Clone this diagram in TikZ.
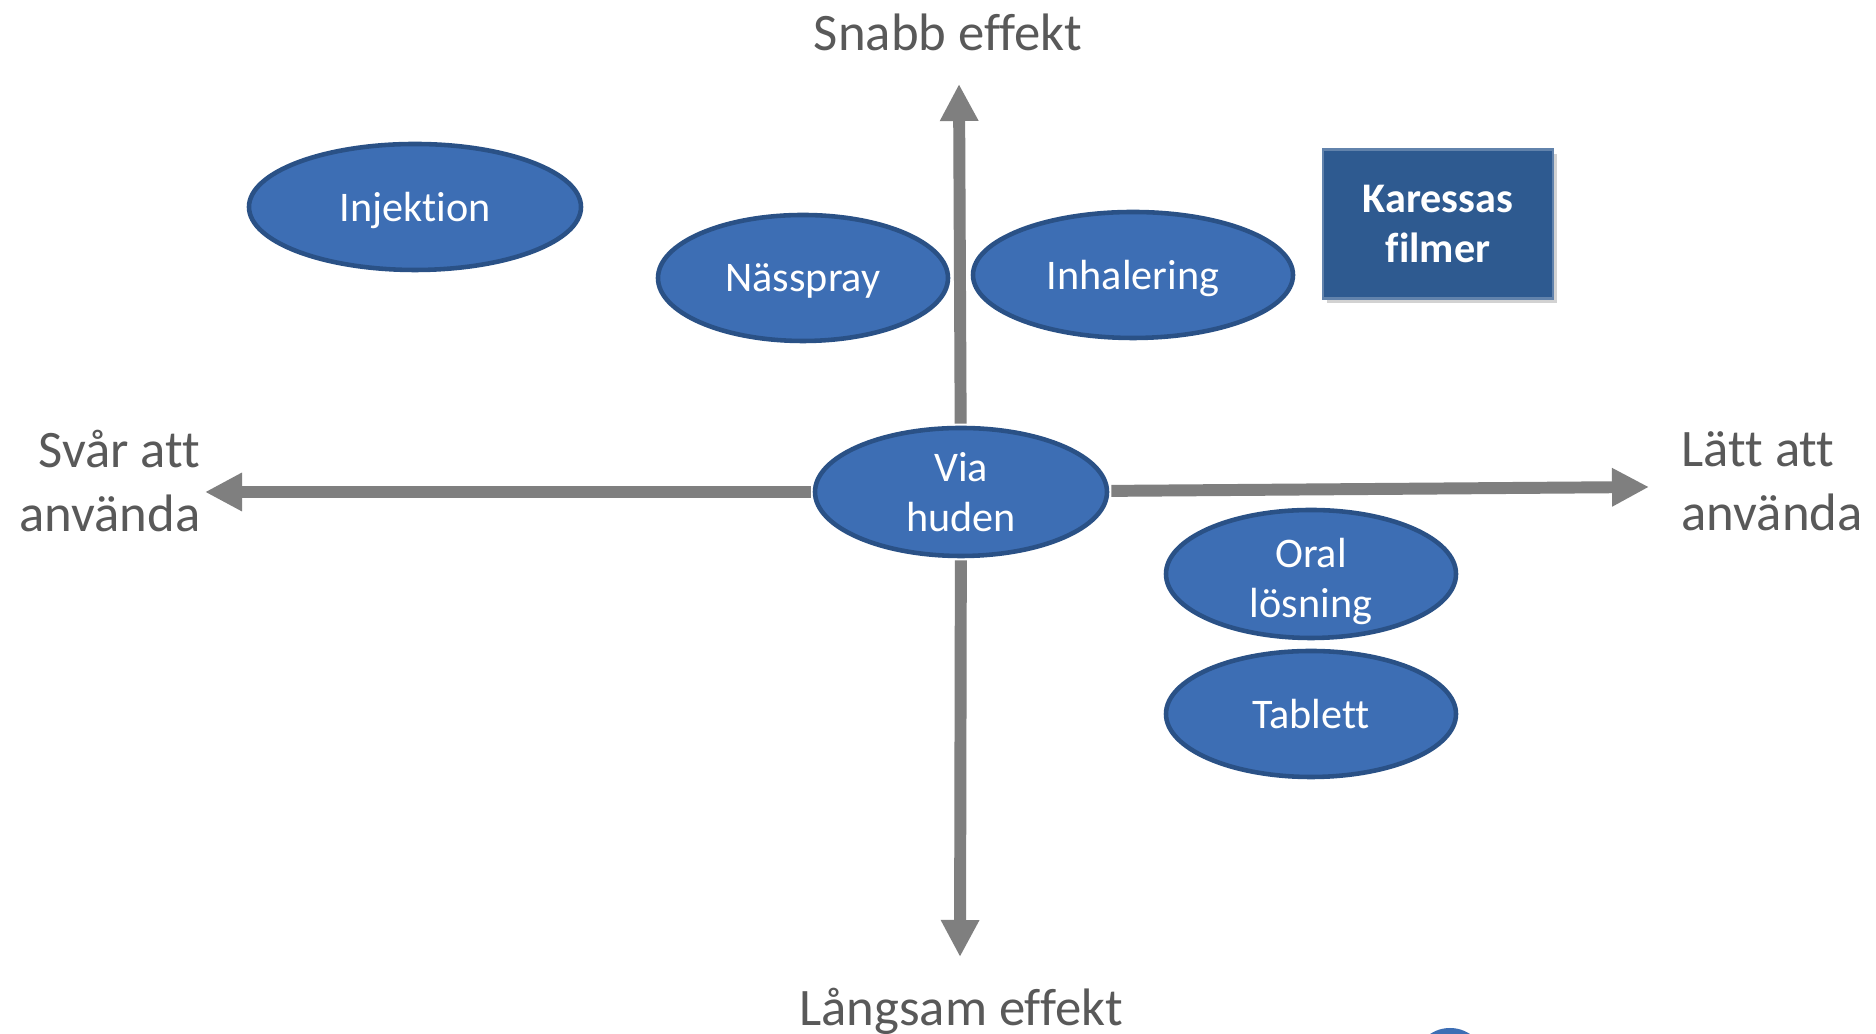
\documentclass[tikz,border=0pt]{standalone}
\usepackage{fontspec}
\setmainfont{Carlito}[Ligatures={NoCommon}, Contextuals={NoAlternate}, RawFeature={-liga;-clig;-calt}]
\usetikzlibrary{shapes.geometric, arrows.meta, shadows}
\definecolor{ovalblue}{HTML}{3D6EB4}
\definecolor{ovalrim}{HTML}{2A5186}
\definecolor{boxblue}{HTML}{2E5A90}
\definecolor{axisgray}{HTML}{7F7F7F}
\definecolor{labelgray}{HTML}{595959}
\tikzstyle{oval} = [ellipse, draw=ovalrim, line width=1.3pt, fill=ovalblue, text=white, text centered, align=center, inner sep=0pt, minimum height=1.26cm, font=\fontsize{12}{14.2}\selectfont]
\tikzstyle{flat} = [text depth=0pt]
\tikzstyle{twoline} = [inner ysep=-0.15cm, minimum height=1.28cm]
\tikzstyle{rec} = [rectangle, draw=boxblue!75!white, line width=0.8pt, fill=boxblue, text=white, text centered, align=center, minimum width=2.30cm, minimum height=1.49cm, font=\fontsize{12}{14.5}\selectfont\bfseries, drop shadow={opacity=0.35, shadow xshift=0.04cm, shadow yshift=-0.05cm}]
\tikzstyle{axis} = [line width=3.4pt, draw=axisgray, shorten <=0.6pt, -{Triangle[width=0.36cm, length=0.37cm]}]
\tikzstyle{axislabel} = [text=labelgray, inner sep=0pt, font=\fontsize{15}{18.2}\selectfont]

\begin{document}
\begin{tikzpicture}[node distance = 1.40cm]
		\useasboundingbox (0,0) rectangle (18.76,10.34);
		\fill[white] (0,0) rectangle (18.76,10.34);
		% axes
		\coordinate (snabb) at (9.59,9.50);
		\coordinate (langsam) at (9.60,0.77);
		\coordinate (svar) at (2.05,5.42);
		\coordinate (latt) at (16.49,5.47);
		\node (via) [oval, twoline, minimum width=2.92cm] at (9.61,5.42) {Via\\huden};
		\draw [axis] (via) -- (snabb);
		\draw [axis] (via) -- (langsam);
		\draw [axis] (via) -- (svar);
		\draw [axis] (via) -- (latt);
		\node (snabbtext) [axislabel, anchor=base] at (9.48,9.83) {Snabb effekt};
		\node (langsamtext) [axislabel, anchor=base] at (9.61,0.08) {Långsam effekt};
		\node (svartext) [axislabel, align=right, anchor=east] at (2.01,5.53) {Svår att\\använda};
		\node (latttext) [axislabel, align=left, anchor=west] at (16.81,5.53) {Lätt att\\använda};
		% forms
		\node (injektion) [oval, flat, minimum width=3.32cm] at (4.15,8.27) {Injektion};
		\node (nasspray) [oval, flat, minimum width=2.90cm] at (8.03,7.56) {Nässpray};
		\node (inhalering) [oval, flat, minimum width=3.20cm] at (11.33,7.59) {Inhalering};
		\node (oral) [oval, twoline, minimum width=2.90cm] at (13.11,4.60) {\rule{0pt}{2.2ex}Oral\\lösning};
		\node (tablett) [oval, flat, minimum width=2.90cm, below of=oral] {Tablett};
		\node (filmer) [rec] at (14.38,8.10) {Karessas\\filmer};
		\fill[ovalblue] (14.50,-0.30) circle (0.36);
	\end{tikzpicture}
\end{document}
